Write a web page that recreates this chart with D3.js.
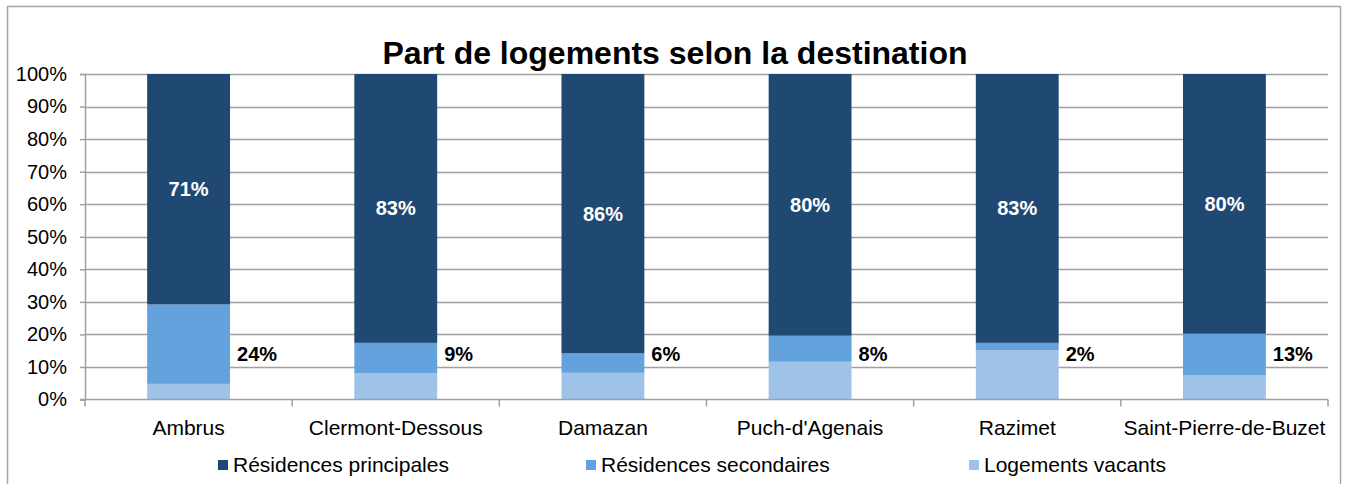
<!DOCTYPE html>
<html lang="fr">
<head>
<meta charset="utf-8">
<title>Part de logements selon la destination</title>
<script src="https://d3js.org/d3.v7.min.js"></script>
<style>
  body { margin: 0; background: #fff; }
  text { font-family: "Liberation Sans", Arial, sans-serif; }
</style>
</head>
<body>
<script>
var w = 1346, h = 484;

var communes = ["Ambrus", "Clermont-Dessous", "Damazan", "Puch-d'Agenais", "Razimet", "Saint-Pierre-de-Buzet"];
var vacants = [4.8, 8.1, 8.2, 11.6, 15.2, 7.5];
var secondaires = [24.4, 9.3, 6.0, 8.0, 2.2, 12.7];
var principales = [70.8, 82.6, 85.8, 80.4, 82.6, 79.8];
var yTicks = [0, 10, 20, 30, 40, 50, 60, 70, 80, 90, 100];

var seriesNames = ["Résidences principales", "Résidences secondaires", "Logements vacants"];
var colors = { vacants: "#9fc2e9", secondaires: "#64a2de", principales: "#1f4972" };

var rows = communes.map(function(c, i) {
  return { commune: c, vacants: vacants[i], secondaires: secondaires[i], principales: principales[i] };
});

var keys = ["vacants", "secondaires", "principales"];
var stacked = d3.stack().keys(keys)(rows);

var svg = d3.select("body").append("svg")
  .attr("width", w)
  .attr("height", h);

// cadre du graphique
svg.append("rect")
  .attr("x", 7.5).attr("y", 6.5)
  .attr("width", 1333).attr("height", 500)
  .attr("fill", "none")
  .attr("stroke", "#a6a6a6")
  .attr("stroke-width", 1.5);

var plotLeft = 85, plotRight = 1328, plotTop = 74, plotBottom = 399.5;

var x = d3.scaleBand().domain(communes).range([plotLeft, plotRight]).paddingInner(0.6).paddingOuter(0.3);
var y = d3.scaleLinear().domain([0, 100]).range([plotBottom, plotTop]);

// titre
svg.append("text")
  .attr("x", 675).attr("y", 64)
  .attr("text-anchor", "middle")
  .attr("font-size", "32px")
  .attr("font-weight", "bold")
  .text("Part de logements selon la destination");

// grille
svg.append("g")
  .selectAll("line")
  .data(yTicks.filter(function(d) { return d > 0; }))
  .enter().append("line")
  .attr("x1", plotLeft).attr("x2", plotRight)
  .attr("y1", function(d) { return Math.round(y(d)) + 0.5; })
  .attr("y2", function(d) { return Math.round(y(d)) + 0.5; })
  .attr("stroke", "#a0a0a0")
  .attr("stroke-width", 1.5);

// axe y
var yAxis = svg.append("g")
  .attr("transform", "translate(" + plotLeft + ",0)")
  .call(d3.axisLeft(y).tickValues(yTicks).tickSize(5).tickPadding(13)
    .tickFormat(function(d) { return d + "%"; }));
yAxis.select(".domain").attr("stroke", "#a0a0a0").attr("stroke-width", 1.5);
yAxis.selectAll(".tick line").attr("stroke", "#a0a0a0").attr("stroke-width", 1.5);
yAxis.selectAll(".tick text").attr("font-size", "20px").attr("fill", "#000")
  .attr("font-family", "'Liberation Sans', Arial, sans-serif");

// barres
svg.append("g")
  .selectAll("g")
  .data(stacked)
  .enter().append("g")
  .attr("fill", function(d) { return colors[d.key]; })
  .selectAll("rect")
  .data(function(d) { return d; })
  .enter().append("rect")
  .attr("x", function(d) { return x(d.data.commune); })
  .attr("y", function(d) { return y(d[1]); })
  .attr("height", function(d) { return y(d[0]) - y(d[1]); })
  .attr("width", x.bandwidth());

// axe x
var xAxisG = svg.append("g").attr("transform", "translate(0," + plotBottom + ")");
xAxisG.append("line")
  .attr("x1", plotLeft - 5).attr("x2", plotRight)
  .attr("y1", 0).attr("y2", 0)
  .attr("stroke", "#a0a0a0").attr("stroke-width", 1.5);
var boundaries = communes.map(function(c, i) { return plotLeft + i * x.step(); }).concat([plotRight]);
xAxisG.selectAll(".xt")
  .data(boundaries)
  .enter().append("line")
  .attr("x1", function(d) { return d; }).attr("x2", function(d) { return d; })
  .attr("y1", 0).attr("y2", 7)
  .attr("stroke", "#a0a0a0").attr("stroke-width", 1.5);
xAxisG.selectAll(".xl")
  .data(communes)
  .enter().append("text")
  .attr("x", function(d) { return x(d) + x.bandwidth() / 2; })
  .attr("y", 35)
  .attr("text-anchor", "middle")
  .attr("font-size", "21px")
  .text(function(d) { return d; });

// étiquettes résidences principales (blanc, centré)
svg.append("g")
  .selectAll("text")
  .data(stacked[2])
  .enter().append("text")
  .attr("x", function(d) { return x(d.data.commune) + x.bandwidth() / 2; })
  .attr("y", function(d) { return y((d[0] + d[1]) / 2); })
  .attr("dy", "0.35em")
  .attr("text-anchor", "middle")
  .attr("font-size", "20px")
  .attr("font-weight", "bold")
  .attr("fill", "#fff")
  .text(function(d) { return Math.round(d.data.principales) + "%"; });

// étiquettes résidences secondaires (noir, à droite de la barre)
svg.append("g")
  .selectAll("text")
  .data(rows)
  .enter().append("text")
  .attr("x", function(d) { return x(d.commune) + x.bandwidth() + 7; })
  .attr("y", y(14))
  .attr("dy", "0.35em")
  .attr("font-size", "20px")
  .attr("font-weight", "bold")
  .attr("fill", "#000")
  .text(function(d) { return Math.round(d.secondaires) + "%"; });

// légende
var legendX = [218, 586, 969];
var legendKeys = ["principales", "secondaires", "vacants"];
var legend = svg.append("g")
  .selectAll("g")
  .data(legendKeys)
  .enter().append("g")
  .attr("transform", function(d, i) { return "translate(" + legendX[i] + ",460)"; });
legend.append("rect")
  .attr("width", 10).attr("height", 10)
  .attr("fill", function(d) { return colors[d]; });
legend.append("text")
  .attr("x", 15).attr("y", 5)
  .attr("dy", "0.35em")
  .attr("font-size", "21px")
  .text(function(d, i) { return seriesNames[i]; });
</script>
</body>
</html>
